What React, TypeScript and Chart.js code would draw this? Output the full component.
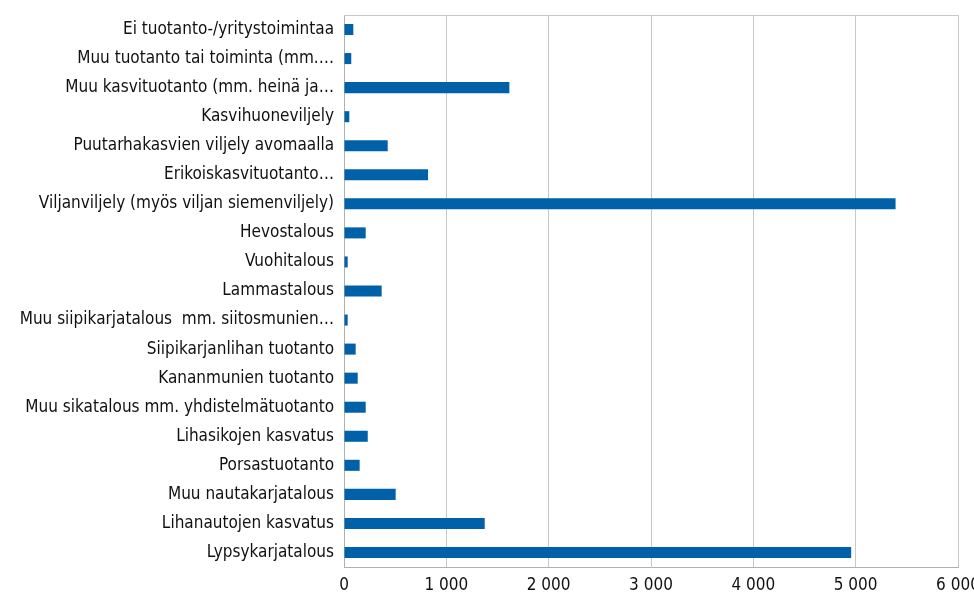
import React, { useEffect, useRef } from "react";
import { Chart, registerables } from "chart.js";

Chart.register(...registerables);

const categories: string[] = [
  "Ei tuotanto-/yritystoimintaa",
  "Muu tuotanto tai toiminta (mm.…",
  "Muu kasvituotanto (mm. heinä ja…",
  "Kasvihuoneviljely",
  "Puutarhakasvien viljely avomaalla",
  "Erikoiskasvituotanto…",
  "Viljanviljely (myös viljan siemenviljely)",
  "Hevostalous",
  "Vuohitalous",
  "Lammastalous",
  "Muu siipikarjatalous  mm. siitosmunien…",
  "Siipikarjanlihan tuotanto",
  "Kananmunien tuotanto",
  "Muu sikatalous mm. yhdistelmätuotanto",
  "Lihasikojen kasvatus",
  "Porsastuotanto",
  "Muu nautakarjatalous",
  "Lihanautojen kasvatus",
  "Lypsykarjatalous",
];

const values: number[] = [
  91, 71, 1616, 52, 427, 821, 5390, 212, 36, 368, 36, 114, 134, 212, 232, 153, 505, 1375, 4956,
];

const xTicks: number[] = [0, 1000, 2000, 3000, 4000, 5000, 6000];

const FONT = "'Liberation Sans Narrow', 'DejaVu Sans Condensed', 'Roboto', sans-serif";

const framePlugin = {
  id: "frame",
  afterDraw(chart: any) {
    const { ctx, chartArea } = chart;
    ctx.save();
    ctx.strokeStyle = "#c8c8c8";
    ctx.lineWidth = 1;
    ctx.beginPath();
    ctx.moveTo(chartArea.left, chartArea.top + 0.5);
    ctx.lineTo(chartArea.right, chartArea.top + 0.5);
    ctx.stroke();
    ctx.restore();
  },
};

export default function App() {
  const ref = useRef<HTMLCanvasElement | null>(null);
  useEffect(() => {
    if (!ref.current) return;
    const chart = new Chart(ref.current, {
      type: "bar",
      data: {
        labels: categories,
        datasets: [
          {
            data: values,
            backgroundColor: "#0060a8",
            borderWidth: 0,
            barPercentage: 0.76,
            categoryPercentage: 0.5,
          },
        ],
      },
      options: {
        indexAxis: "y",
        animation: false,
        responsive: false,
        maintainAspectRatio: false,
        layout: { padding: { top: 15, right: 16, left: 0, bottom: 0 } },
        plugins: {
          legend: { display: false },
          tooltip: { enabled: false },
          title: { display: false },
        },
        scales: {
          x: {
            type: "linear",
            min: 0,
            max: 6000,
            afterBuildTicks: (scale: any) => {
              scale.ticks = xTicks.map((v) => ({ value: v }));
            },
            afterFit: (scale: any) => {
              scale.height = 30;
              scale.paddingLeft = 0;
              scale.paddingRight = 0;
            },
            grid: {
              color: "#c8c8c8",
              lineWidth: 1,
              drawTicks: false,
            },
            border: { display: true, color: "#b0b0b0" },
            ticks: {
              padding: 8,
              color: "#111111",
              font: { family: FONT, size: 17 },
              maxRotation: 0,
              callback: (v: any) => {
                const n = Number(v);
                return n.toString().replace(/\B(?=(\d{3})+(?!\d))/g, " ");
              },
            },
          },
          y: {
            afterFit: (scale: any) => {
              scale.width = 344;
              scale.paddingTop = 0;
              scale.paddingBottom = 0;
            },
            grid: { display: false, drawTicks: false },
            border: { display: true, color: "#b0b0b0" },
            ticks: {
              padding: 10,
              color: "#111111",
              autoSkip: false,
              font: { family: FONT, size: 17 },
            },
          },
        },
      },
      plugins: [framePlugin],
    });
    return () => chart.destroy();
  }, []);
  return (
    <div style={{ position: "fixed", left: 0, top: 0, width: 974, height: 597, background: "#ffffff" }}>
      <canvas ref={ref} width={974} height={597} style={{ display: "block" }} />
    </div>
  );
}
